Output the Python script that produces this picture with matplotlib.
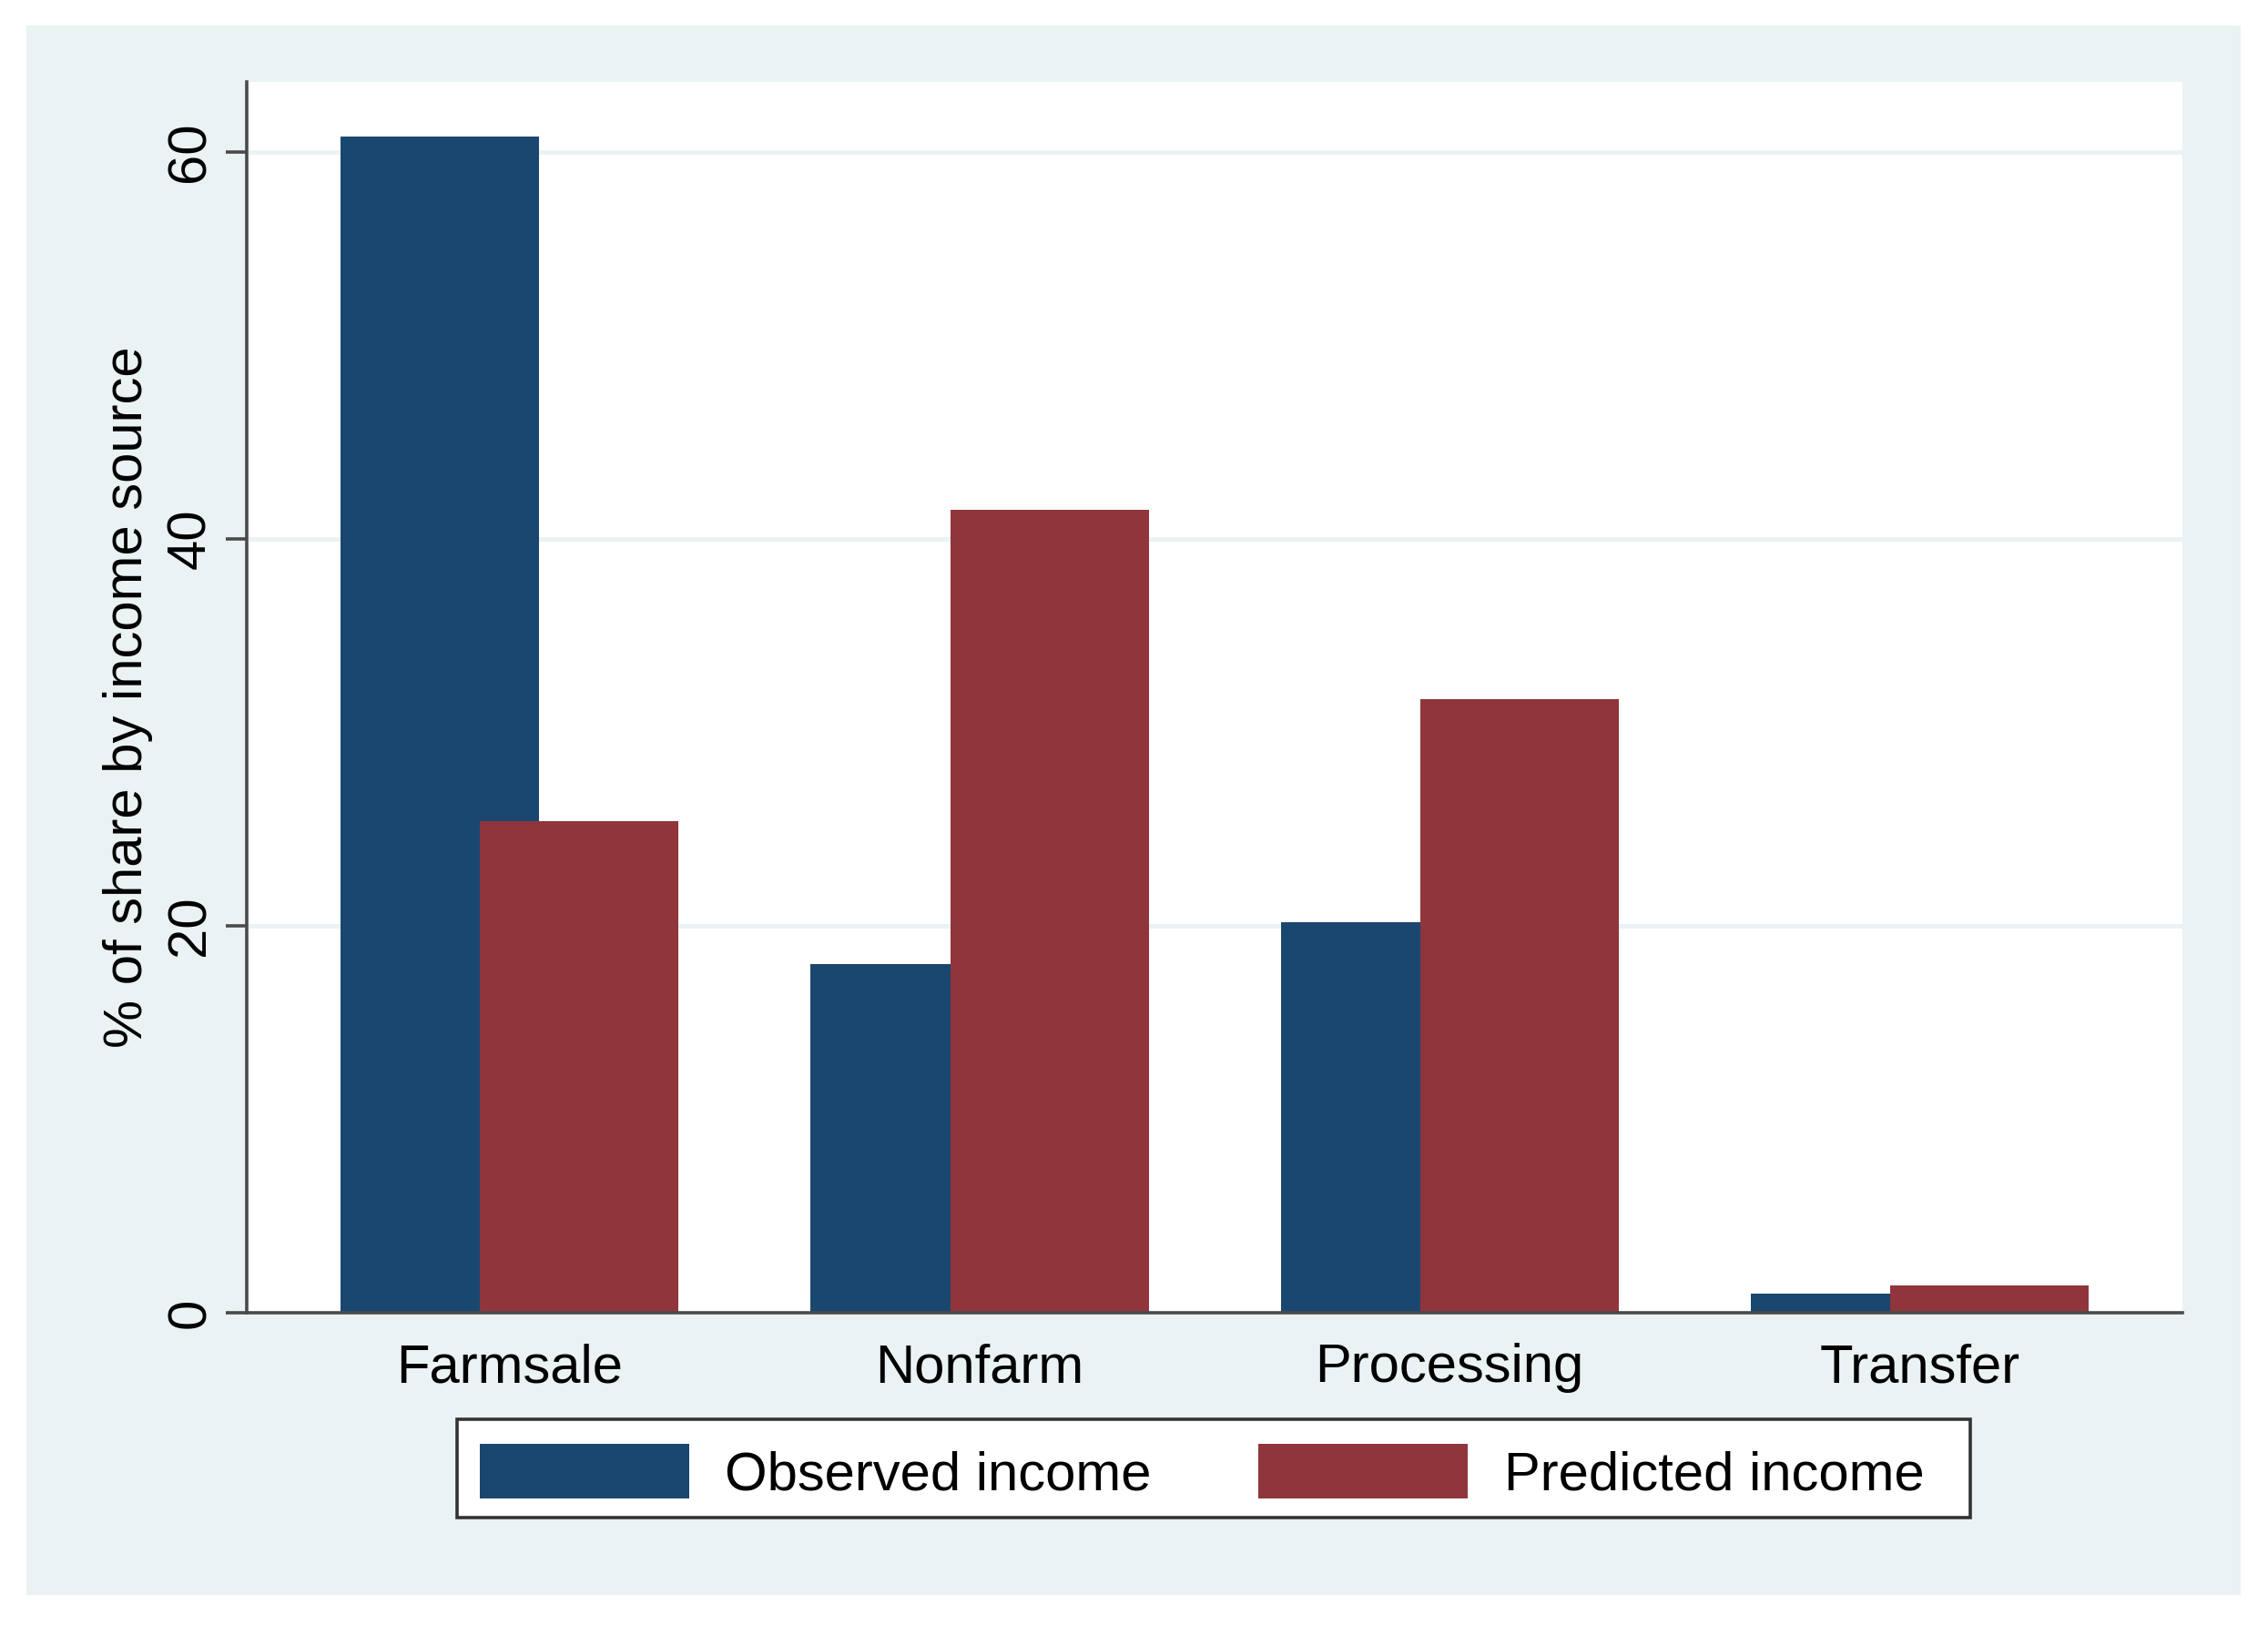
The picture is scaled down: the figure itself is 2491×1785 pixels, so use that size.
import matplotlib.pyplot as plt
import numpy as np
from matplotlib.patches import Rectangle

plt.rcParams['font.family'] = ['Liberation Sans', 'DejaVu Sans']

sources = ["Farmsale", "Nonfarm", "Processing", "Transfer"]
observed = [60.8, 18.0, 20.2, 1.0]
predicted = [25.4, 41.5, 31.7, 1.4]
y_ticks = [0, 20, 40, 60]

navy = "#1a476f"
maroon = "#90353b"
bg = "#eaf2f3"
axis_col = "#4a4a4a"
fs = 43


def plot_income_share():
    fig = plt.figure(figsize=(24.91, 17.85), dpi=100, facecolor="white")
    # outer light panel behind everything (Stata-like graph region)
    fig.patches.append(Rectangle((0.0116, 0.0185), 0.9764, 0.9658,
                                 transform=fig.transFigure, facecolor=bg,
                                 edgecolor="none", zorder=-5))

    ax = fig.add_axes([0.1088, 0.1922, 0.8535, 0.7574])
    ax.set_facecolor("white")

    x = np.arange(len(sources))
    width = 0.422
    offset = 0.1486
    ax.bar(x - offset, observed, width, color=navy, label="Observed income", zorder=2)
    ax.bar(x + offset, predicted, width, color=maroon, label="Predicted income", zorder=3)

    ax.set_xlim(-0.559, 3.559)
    ax.set_ylim(0, 63.62)
    ax.set_xticks(x)
    ax.set_xticklabels(sources, fontsize=fs)
    ax.set_yticks(y_ticks)
    ax.set_yticklabels([str(t) for t in y_ticks], fontsize=fs, rotation=90, va="center")

    for t in y_ticks[1:]:
        ax.axhline(t, color=bg, linewidth=3.5, zorder=1)

    for side in ["top", "right"]:
        ax.spines[side].set_visible(False)
    for side in ["left", "bottom"]:
        ax.spines[side].set_color(axis_col)
        ax.spines[side].set_linewidth(2.6)
        ax.spines[side].set_zorder(4)

    ax.tick_params(axis="x", length=0, pad=24, colors="black")
    ax.tick_params(axis="y", length=16.5, width=2.6, color=axis_col, pad=8, labelcolor="black")

    ax.set_ylabel("% of share by income source", fontsize=fs)
    ax.yaxis.set_label_coords(-0.0485, 0.5)

    # legend box drawn separately so the padding matches the original
    fig.patches.append(Rectangle((0.2015, 0.0661), 0.6672, 0.0605,
                                 transform=fig.transFigure, facecolor="white",
                                 edgecolor="#333333", linewidth=2.6, zorder=4))
    fig.legend(loc="center", bbox_to_anchor=(0.530, 0.0940), ncol=2,
               fontsize=fs, frameon=False,
               handlelength=3.85, handleheight=1.15, handletextpad=0.66,
               columnspacing=1.97, borderpad=0.35)

    fig.savefig("out.png", dpi=100, facecolor="white")


if __name__ == "__main__":
    plot_income_share()
